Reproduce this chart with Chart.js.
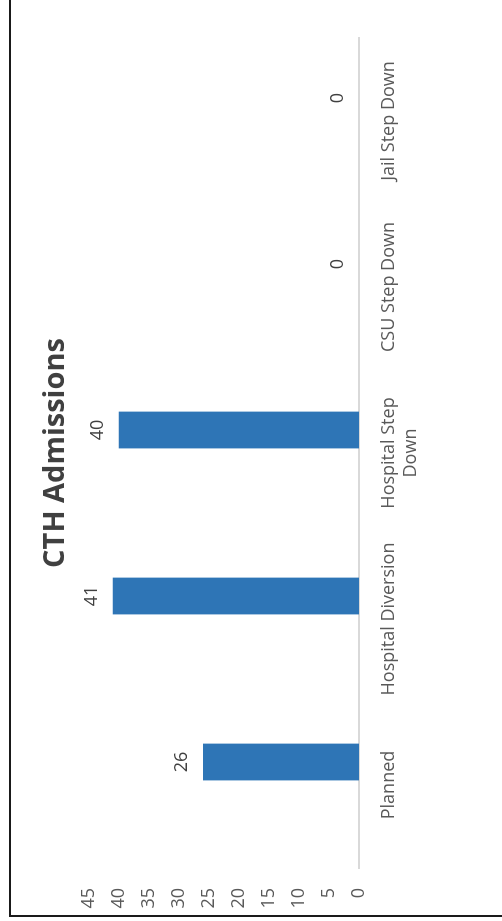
<!DOCTYPE html>
<html>
<head>
<meta charset="utf-8">
<title>CTH Admissions</title>
<script src="https://cdn.jsdelivr.net/npm/chart.js@4.4.1/dist/chart.umd.min.js"></script>
<style>
	html, body { margin: 0; padding: 0; background: #fff; overflow: hidden; width: 502px; height: 921px; }
	#wrap { position: absolute; left: 0; top: 0; width: 921px; height: 502px; transform-origin: 0 0; transform: translate(0, 921px) rotate(-90deg); }
	#frame { position: absolute; left: 4px; top: 9px; width: 1000px; height: 600px; border-left: 2px solid #1a1a1a; border-top: 2px solid #1a1a1a; }
	#chart { position: absolute; left: 0; top: 0; }
</style>
</head>
<body>
<div id="wrap">
	<div id="frame"></div>
	<canvas id="chart" width="921" height="502"></canvas>
</div>
<script>
// CTH admissions by type (chart is drawn rotated, as in the source picture)
const categories = ['Planned', 'Hospital Diversion', ['Hospital Step', 'Down'], 'CSU Step Down', 'Jail Step Down']
const admissions = [26, 41, 40, 0, 0]
const emptySeries = [null, null, null, null, null]
const valueTicks = [0, 5, 10, 15, 20, 25, 30, 35, 40, 45]

const FONT = "'Open Sans', 'DejaVu Sans', sans-serif"

const barLabels = {
	id: 'barLabels',
	afterDatasetsDraw(chart){
		const ctx = chart.ctx
		const meta = chart.getDatasetMeta(1)
		ctx.save()
		ctx.font = '18px ' + FONT
		ctx.fillStyle = '#404040'
		ctx.textAlign = 'center'
		ctx.textBaseline = 'alphabetic'
		meta.data.forEach((bar, i) => {
			ctx.fillText(String(admissions[i]), bar.x, bar.y - 16)
		})
		ctx.restore()
	}
}

new Chart(document.getElementById('chart').getContext('2d'), {
	type: 'bar',
	data: {
		labels: categories,
		datasets: [
			{ label: 'spacer', data: emptySeries, backgroundColor: 'rgba(0,0,0,0)' },
			{ label: 'Admissions', data: admissions, backgroundColor: '#2E75B6', borderWidth: 0 }
		]
	},
	options: {
		responsive: false,
		animation: false,
		devicePixelRatio: 1,
		categoryPercentage: 0.554,
		barPercentage: 0.8,
		layout: { padding: { left: 0, right: 38, top: 0, bottom: 0 } },
		plugins: {
			legend: { display: false },
			tooltip: { enabled: false },
			title: {
				display: true,
				fullSize: false,
				text: 'CTH Admissions',
				color: '#404040',
				font: { family: FONT, size: 29, weight: 'bold', lineHeight: 1.2 },
				padding: { top: 38, bottom: 16 }
			}
		},
		scales: {
			x: {
				grid: { display: false },
				border: { display: true, color: '#d9d9d9', width: 2 },
				ticks: { color: '#595959', font: { family: FONT, size: 18, lineHeight: 1.2 }, padding: 11, maxRotation: 0, autoSkip: false },
				afterFit: s => { s.height = 143 }
			},
			y: {
				min: 0,
				max: 45,
				afterBuildTicks: s => { s.ticks = valueTicks.map(v => ({ value: v })) },
				grid: { display: false },
				border: { display: false },
				ticks: { color: '#595959', font: { family: FONT, size: 18 }, padding: 12 },
				afterFit: s => { s.width = 53 }
			}
		}
	},
	plugins: [barLabels]
})
</script>
</body>
</html>
